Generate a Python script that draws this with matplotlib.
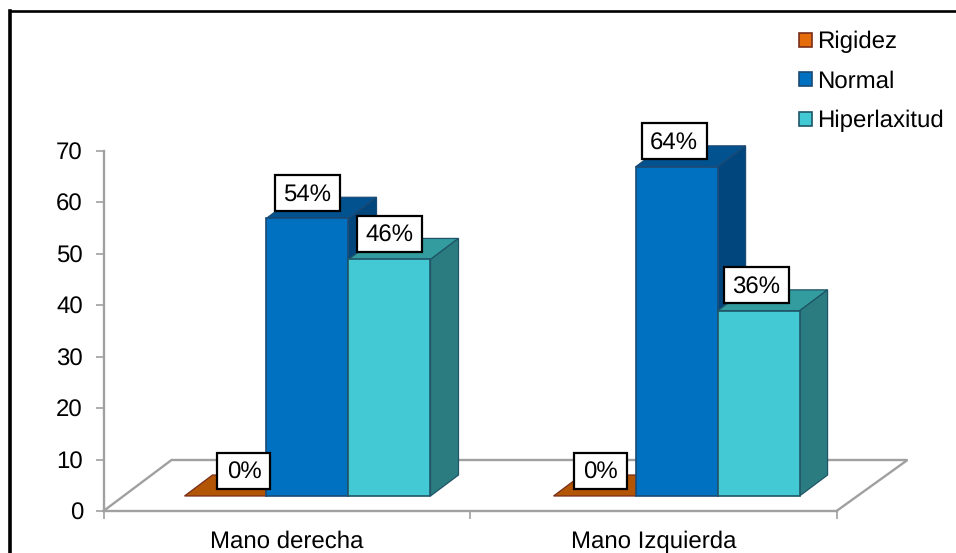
import matplotlib
matplotlib.use("Agg")
import matplotlib.pyplot as plt
from matplotlib.lines import Line2D
from matplotlib.patches import Patch, Polygon, Rectangle

plt.rcParams['font.family'] = ['Liberation Sans', 'DejaVu Sans']
plt.rcParams['text.hinting'] = 'no_hinting'
plt.rcParams['text.hinting_factor'] = 1

categories = ["Mano derecha", "Mano Izquierda"]
series_names = ["Rigidez", "Normal", "Hiperlaxitud"]
rigidez = [0, 0]
normal = [54, 64]
hiperlaxitud = [46, 36]
y_ticks = [0, 10, 20, 30, 40, 50, 60, 70]

W, H = 956, 553
FS = 17.3
GRAY = "#A0A0A0"
front = ["#B25606", "#0070C0", "#43C9D3"]
top_c = ["#B25606", "#02528F", "#339C9E"]
side_c = ["#8A4305", "#01477D", "#2B7C80"]
edge = ["#7A2E1C", "#1B4A75", "#1F5568"]
legend_c = ["#E46C0A", "#0070C0", "#43C9D3"]

fig = plt.figure(figsize=(W / 100, H / 100), dpi=100, facecolor="white")
ax = fig.add_axes([103.5 / W, (H - 511) / H, 733 / W, 360 / H])
ax.set_xlim(0, 2)
ax.set_ylim(0, 70)
ax.patch.set_visible(False)

px_x = 2 / 733
px_y = 70 / 360
bar_w = 82 * px_x
depth_x = 28 * px_x
depth_y = 21 * px_y
base = 15 * px_y
group_start = [0.221, 1.228]

# floor
fx = 68 * px_x
fy = 51 * px_y
floor_x = [0, fx, 2 + 71 * px_x, 2]
floor_y = [0, fy, fy, 0]
ax.plot(floor_x, floor_y, color=GRAY, lw=1.7, clip_on=False, zorder=1, solid_joinstyle="miter")

series = [rigidez, normal, hiperlaxitud]
z = 2
for g in range(len(categories)):
    for s, vals in enumerate(series):
        v = vals[g]
        x0 = group_start[g] + s * bar_w
        x1 = x0 + bar_w
        y0 = base
        y1 = base + v
        ax.add_patch(Polygon([(x0, y1), (x0 + depth_x, y1 + depth_y), (x1 + depth_x, y1 + depth_y), (x1, y1)],
                             closed=True, fc=top_c[s], ec=edge[s], lw=0.9, clip_on=False, zorder=z))
        if v > 0:
            ax.add_patch(Polygon([(x1, y0), (x1 + depth_x, y0 + depth_y), (x1 + depth_x, y1 + depth_y), (x1, y1)],
                                 closed=True, fc=side_c[s], ec=edge[s], lw=0.9, clip_on=False, zorder=z))
            ax.bar([x0], [v], width=bar_w, bottom=y0, align="edge", color=front[s], edgecolor=edge[s],
                   linewidth=1.2, clip_on=False, zorder=z + 0.5)
        z += 1

# data labels: boxes are drawn apart from the text so the text sits centred in them
label_shift = [[18.5, 0, 0], [6, -2.5, -2]]
for g in range(len(categories)):
    for s, vals in enumerate(series):
        v = vals[g]
        cx = group_start[g] + s * bar_w + bar_w / 2 + label_shift[g][s] * px_x
        cy = base + v + 25.5 * px_y
        bw = (53 if v == 0 else 65) * px_x
        bh = 36 * px_y
        ax.add_patch(Rectangle((cx - bw / 2, cy - bh / 2), bw, bh, fc="white", ec="black", lw=1.6,
                               clip_on=False, zorder=29))
        ax.text(cx, cy - 2 * px_y, f"{v}%", ha="center", va="center", fontsize=FS, color="black",
                clip_on=False, zorder=30)

# axes
for name in ("top", "right"):
    ax.spines[name].set_visible(False)
for name in ("left", "bottom"):
    ax.spines[name].set_color(GRAY)
    ax.spines[name].set_linewidth(1.7)
ax.set_yticks(y_ticks)
ax.tick_params(axis="y", length=5.8, width=1.2, color=GRAY, labelsize=FS, pad=9, labelcolor="black")
ax.set_xticks([0, 1, 2])
ax.set_xticklabels([])
ax.tick_params(axis="x", which="major", length=5.8, width=1.2, color=GRAY)
ax.set_xticks([0.5, 1.5], minor=True)
ax.set_xticklabels(categories, minor=True, fontsize=FS)
ax.tick_params(axis="x", which="minor", length=0, pad=14, labelcolor="black")

# legend
handles = [Patch(fc=legend_c[i], ec=edge[i], lw=1.2, label=series_names[i]) for i in range(3)]
fig.legend(handles=handles, loc="upper left", bbox_to_anchor=(799 / W, 1 - 31 / H), frameon=False,
           fontsize=FS, handlelength=0.54, handleheight=0.54, handletextpad=0.2,
           labelspacing=0.71, borderpad=0, borderaxespad=0, labelcolor="black")

# outer frame
fig.add_artist(Line2D([9.8 / W, 9.8 / W], [0, 1 - 11 / H], transform=fig.transFigure, color="black", lw=2.6,
                      solid_capstyle="projecting"))
fig.add_artist(Line2D([9.8 / W, 1], [1 - 11 / H, 1 - 11 / H], transform=fig.transFigure, color="black", lw=1.9))

fig.savefig("out.png", dpi=100, facecolor="white")
